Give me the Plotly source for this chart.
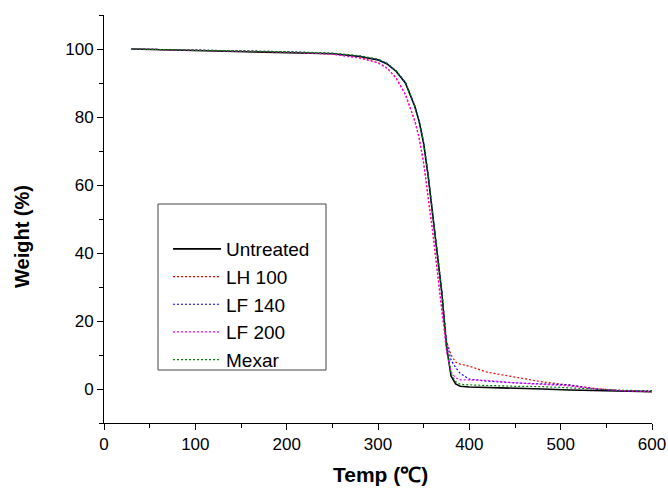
import plotly.graph_objects as go

# Temperature grid (°C) shared by all series
temp_c = [30, 100, 200, 250, 280, 300, 310, 320, 330, 340, 345, 350, 355, 360, 365,
          370, 375, 380, 385, 390, 400, 420, 450, 480, 510, 540, 570, 600]

# Weight (%)
untreated = [100.0, 99.6, 99.1, 98.6, 97.8, 96.8, 95.6, 93.4, 90.0, 83.3, 78.8, 72.2, 62.5, 51.0, 40.0,
             28.0, 12.5, 3.8, 1.5, 0.8, 0.6, 0.5, 0.3, 0.0, -0.3, -0.5, -0.7, -0.8]
lh100 = [100.0, 99.6, 99.1, 98.5, 97.4, 96.0, 94.4, 91.5, 86.7, 79.2, 74.0, 66.5, 56.5, 46.0, 34.5,
         23.0, 14.0, 10.0, 7.9, 7.3, 6.7, 4.9, 3.5, 2.1, 1.1, 0.1, -0.6, -0.8]
lf140 = [100.0, 99.7, 99.2, 98.7, 97.9, 96.9, 95.7, 93.5, 90.1, 83.5, 79.0, 72.4, 62.7, 51.2, 40.2,
         28.5, 14.0, 8.5, 6.3, 4.6, 2.9, 2.3, 1.8, 1.5, 1.2, -0.1, -0.6, -0.7]
lf200 = [100.0, 99.6, 99.1, 98.5, 97.3, 95.9, 94.3, 91.3, 86.5, 79.0, 73.8, 66.3, 56.5, 46.0, 34.5,
         22.0, 11.0, 5.0, 3.3, 2.7, 2.6, 2.5, 1.8, 1.4, 0.9, 0.0, -0.5, -0.7]
mexar = [100.0, 99.7, 99.2, 98.8, 98.0, 97.0, 95.8, 93.6, 90.2, 83.5, 79.0, 72.4, 62.7, 51.2, 40.2,
         28.2, 12.8, 4.5, 2.2, 1.4, 1.2, 1.0, 0.8, 0.7, 0.3, -0.2, -0.4, -0.5]

series_names = ["Untreated", "LH 100", "LF 140", "LF 200", "Mexar"]
series_values = [untreated, lh100, lf140, lf200, mexar]
series_colors = ["#000000", "#ff0000", "#0000ff", "#ff00ff", "#008000"]
series_dash = ["solid", "2px,2px", "2px,2px", "2px,2px", "2px,2px"]
series_width = [1.6, 1.2, 1.2, 1.2, 1.2]

x_ticks = [0, 100, 200, 300, 400, 500, 600]
y_ticks = [0, 20, 40, 60, 80, 100]

FONT = "Liberation Sans, Arial, Helvetica, sans-serif"

fig = go.Figure()
for name, vals, col, dash, w in zip(series_names, series_values, series_colors, series_dash, series_width):
    fig.add_trace(go.Scatter(x=temp_c, y=vals, mode="lines", name=name,
                             line=dict(color=col, dash=dash, width=w)))

axis_common = dict(
    showline=True, linecolor="black", linewidth=1, mirror=False,
    ticks="outside", ticklen=6, tickwidth=1, tickcolor="black",
    showgrid=False, zeroline=False, automargin=False,
    tickfont=dict(family=FONT, size=17, color="black"),
)

fig.update_layout(
    width=668, height=494,
    margin=dict(l=104, r=16, t=15, b=71, autoexpand=False),
    paper_bgcolor="white", plot_bgcolor="white",
    font=dict(family=FONT, color="black"),
    xaxis=dict(range=[0, 600], tickvals=x_ticks,
               minor=dict(dtick=50, tick0=0, ticks="outside", ticklen=4, tickcolor="black"),
               **axis_common),
    yaxis=dict(range=[-10, 110], tickvals=y_ticks,
               minor=dict(dtick=10, tick0=0, ticks="outside", ticklen=4, tickcolor="black"),
               **axis_common),
    showlegend=True,
    legend=dict(x=(168 - 104) / 548, y=(423 - 230) / 408, xanchor="left", yanchor="top",
                bgcolor="rgba(0,0,0,0)", borderwidth=0, itemwidth=48,
                font=dict(family=FONT, size=19, color="black"), tracegroupgap=0),
    shapes=[dict(type="rect", xref="paper", yref="paper",
                 x0=(158 - 104) / 548, x1=(326 - 104) / 548,
                 y0=(423 - 370) / 408, y1=(423 - 204) / 408,
                 line=dict(color="#444444", width=1), fillcolor="rgba(0,0,0,0)", layer="above")],
    annotations=[
        dict(text="<b>Weight (%)</b>", xref="paper", yref="paper",
             x=(22 - 104) / 548, y=(423 - 237) / 408, textangle=-90,
             xanchor="center", yanchor="middle", showarrow=False,
             font=dict(family=FONT, size=20, color="black")),
        dict(text="<b>Temp (℃)</b>", xref="paper", yref="paper",
             x=(380 - 104) / 548, y=(423 - 474) / 408,
             xanchor="center", yanchor="middle", showarrow=False,
             font=dict(family=FONT, size=21, color="black")),
    ],
)

fig.write_html("out.html", config={"displayModeBar": False},
               post_script="document.body.style.margin='0';")
